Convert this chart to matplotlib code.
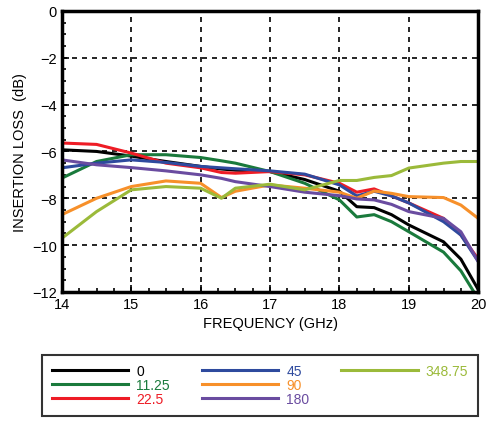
import matplotlib
matplotlib.use("Agg")
import matplotlib.pyplot as plt
from matplotlib.ticker import MultipleLocator
from matplotlib.lines import Line2D

plt.rcParams['font.family'] = ['Liberation Sans', 'DejaVu Sans']

freq = [14, 14.5, 15, 15.5, 16, 16.3, 16.5, 17, 17.5, 18, 18.25, 18.5, 18.75, 19, 19.5, 19.75, 20]
s0 = [-5.93, -6.0, -6.2, -6.43, -6.64, -6.75, -6.8, -6.86, -7.2, -7.7, -8.36, -8.4, -8.7, -9.14, -9.86, -10.6, -11.9]
s11 = [-7.14, -6.43, -6.14, -6.14, -6.26, -6.4, -6.5, -6.86, -7.36, -8.07, -8.8, -8.7, -9.0, -9.43, -10.3, -11.1, -12.3]
s22 = [-5.64, -5.7, -6.07, -6.5, -6.7, -6.9, -6.93, -6.86, -7.0, -7.36, -7.74, -7.6, -7.9, -8.2, -8.86, -9.57, -10.6]
s45 = [-6.7, -6.5, -6.36, -6.47, -6.64, -6.7, -6.74, -6.83, -6.97, -7.43, -7.9, -7.7, -7.9, -8.2, -9.0, -9.57, -10.7]
s90 = [-8.7, -8.0, -7.5, -7.26, -7.36, -7.97, -7.7, -7.43, -7.57, -7.74, -8.0, -7.69, -7.79, -7.93, -7.97, -8.29, -8.86]
s180 = [-6.36, -6.57, -6.69, -6.83, -7.0, -7.15, -7.29, -7.5, -7.74, -7.89, -8.03, -8.07, -8.26, -8.57, -8.86, -9.43, -10.7]
s348 = [-9.71, -8.57, -7.64, -7.5, -7.57, -8.0, -7.57, -7.4, -7.64, -7.24, -7.24, -7.11, -7.03, -6.71, -6.5, -6.43, -6.43]

series = [("0", s0, "#000000"), ("11.25", s11, "#1a7a3c"), ("22.5", s22, "#ee1c25"),
          ("45", s45, "#2e4a9e"), ("90", s90, "#f7902a"), ("180", s180, "#6a4ca0"),
          ("348.75", s348, "#9bba3a")]

fig = plt.figure(figsize=(4.87, 4.27), dpi=100)
ax = fig.add_axes([0.127, 0.314, 0.855, 0.658])
lines = []
for lab, ys, c in series:
    l, = ax.plot(freq, ys, color=c, lw=2.2, solid_joinstyle="round", label=lab)
    lines.append(l)
ax.set_xlim(14, 20)
ax.set_ylim(-12, 0)
ax.xaxis.set_major_locator(MultipleLocator(1))
ax.xaxis.set_minor_locator(MultipleLocator(0.25))
ax.yaxis.set_major_locator(MultipleLocator(2))
ax.yaxis.set_minor_locator(MultipleLocator(0.5))
ax.tick_params(which="both", direction="in", labelsize=10.5)
ax.tick_params(which="major", length=5, width=1.2)
ax.tick_params(which="minor", length=3, width=1.2)
ax.grid(True, which="major", color="black", linestyle=(0, (3, 3)), lw=1.2)
for sp in ax.spines.values():
    sp.set_linewidth(2.5)
ax.set_xlabel("FREQUENCY (GHz)", fontsize=10.5)
ax.set_ylabel("INSERTION LOSS  (dB)", fontsize=10.5)

blank = Line2D([], [], color="none")
handles = lines + [blank, blank]
labels = [s[0] for s in series] + ["", ""]
leg = fig.legend(handles=handles, labels=labels, ncol=3, loc="lower left",
                 bbox_to_anchor=(0.072, 0.007, 0.924, 0.145),
                 mode="expand", fontsize=10, frameon=True, fancybox=False, edgecolor="black",
                 handlelength=5.5, labelspacing=0.0, borderpad=0.7, handletextpad=0.6)
leg.get_frame().set_linewidth(1.5)
for t, (_, _, c) in zip(leg.get_texts(), series):
    t.set_color(c)
fig.savefig("out.png", dpi=100)
